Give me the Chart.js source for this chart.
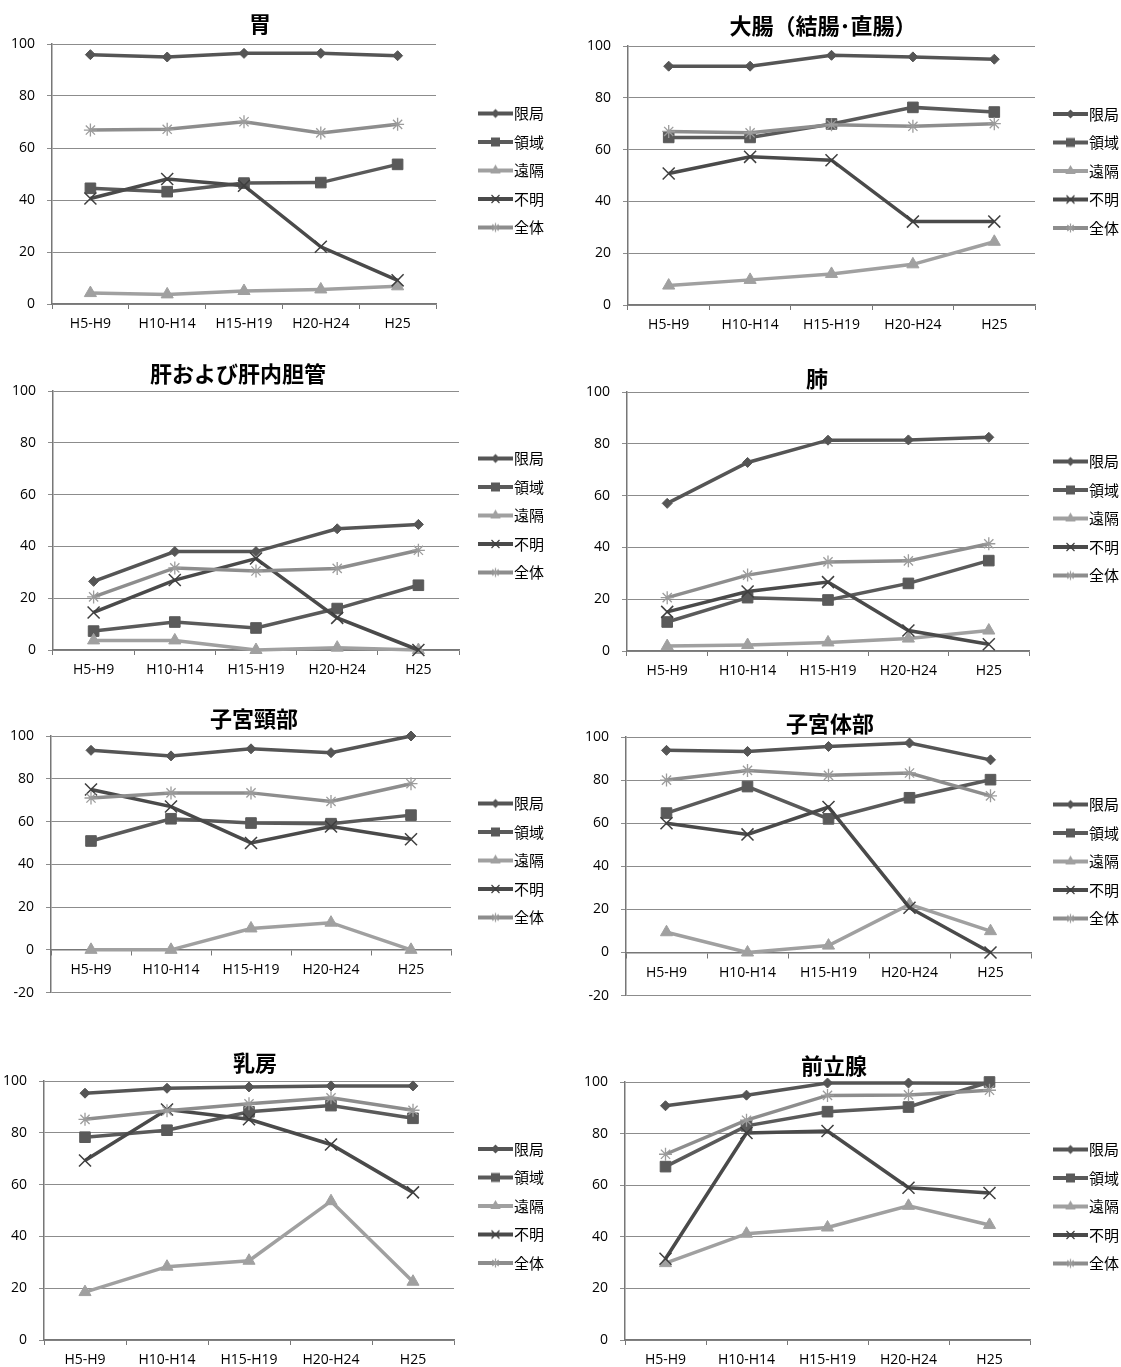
<!DOCTYPE html>
<html>
<head>
<meta charset="utf-8">
<script src="https://cdn.jsdelivr.net/npm/chart.js@4.4.1/dist/chart.umd.min.js"></script>
<style>
html,body{margin:0;padding:0;background:#fff;overflow:hidden;}
#wrap{position:relative;width:1121px;height:1367px;overflow:hidden;background:#fff;}
#wrap canvas{position:absolute;}
</style>
</head>
<body>
<div id="wrap"></div>
<script>
// ---------- data ----------
const categories = ['H5-H9', 'H10-H14', 'H15-H19', 'H20-H24', 'H25'];
const seriesNames = ['限局', '領域', '遠隔', '不明', '全体'];
const panelTitles = ['胃', '大腸（結腸･直腸）', '肝および肝内胆管', '肺', '子宮頸部', '子宮体部', '乳房', '前立腺'];
const yMinimums = [0, 0, 0, 0, -20, -20, 0, 0];

// rows: 限局, 領域, 遠隔, 不明, 全体
const stomach = [
  [95.9, 95.0, 96.4, 96.4, 95.5],
  [44.5, 43.2, 46.5, 46.7, 53.7],
  [4.2, 3.7, 5.0, 5.6, 6.8],
  [40.6, 48.1, 45.5, 22.0, 9.1],
  [66.9, 67.2, 70.1, 65.8, 69.1]
];
const colorectum = [
  [92.2, 92.2, 96.4, 95.8, 94.9],
  [64.7, 64.7, 69.9, 76.3, 74.5],
  [7.5, 9.7, 12.0, 15.7, 24.4],
  [50.8, 57.2, 55.9, 32.2, 32.2],
  [67.0, 66.5, 69.6, 69.0, 70.0]
];
const liver = [
  [26.5, 38.0, 38.0, 46.8, 48.5],
  [7.3, 10.8, 8.5, 16.0, 25.0],
  [3.7, 3.7, 0, 0.9, 0],
  [14.5, 27.0, 35.3, 12.4, 0],
  [20.5, 31.7, 30.5, 31.5, 38.5]
];
const lung = [
  [57.0, 72.8, 81.4, 81.5, 82.5],
  [11.2, 20.6, 19.7, 26.1, 34.9],
  [1.9, 2.3, 3.3, 4.8, 7.9],
  [15.1, 23.0, 26.6, 7.9, 2.6],
  [20.6, 29.3, 34.4, 34.8, 41.4]
];
const cervix = [
  [93.3, 90.7, 94.0, 92.2, 100],
  [50.9, 61.3, 59.3, 59.0, 63.0],
  [0, 0, 10.0, 12.7, 0],
  [75.0, 67.0, 50.0, 57.7, 51.7],
  [71.0, 73.4, 73.4, 69.4, 77.7]
];
const corpus = [
  [93.8, 93.3, 95.6, 97.2, 89.4],
  [64.7, 77.0, 62.0, 71.8, 80.2],
  [9.4, 0, 3.2, 22.3, 9.9],
  [60.0, 54.8, 67.5, 20.8, 0],
  [80.0, 84.5, 82.2, 83.3, 72.7]
];
const breast = [
  [95.3, 97.2, 97.7, 98.1, 98.1],
  [78.3, 81.0, 88.1, 90.5, 85.6],
  [18.5, 28.3, 30.6, 53.6, 22.5],
  [69.3, 89.0, 85.2, 75.5, 57.0],
  [85.2, 88.5, 91.2, 93.5, 88.7]
];
const prostate = [
  [90.8, 94.9, 99.6, 99.6, 99.5],
  [67.2, 83.0, 88.5, 90.3, 100],
  [29.8, 41.2, 43.6, 52.0, 44.6],
  [31.5, 80.2, 81.0, 59.0, 57.0],
  [72.0, 85.2, 94.8, 95.0, 96.8]
];
const panelData = [stomach, colorectum, liver, lung, cervix, corpus, breast, prostate];

// ---------- styles ----------
const lineColors = ['#555555', '#5a5a5a', '#a0a0a0', '#4a4a4a', '#8d8d8d'];
const pointStyles = ['rectRot', 'rect', 'triangle', 'crossRot', 'star'];
const pointRadii = [5, 7.5, 7, 8.5, 6.5];
const markerFill = ['#555555', '#5a5a5a', '#a0a0a0', 'rgba(0,0,0,0)', 'rgba(0,0,0,0)'];
const markerStroke = ['#555555', '#5a5a5a', '#a0a0a0', '#3f3f3f', '#9c9c9c'];
const markerBorder = [1, 1, 1, 1.5, 1.3];

// canvas placement per panel (page px)
const placement = [
  {cL: -31, cT: 13,   W: 582, H: 331, Yw: 83,  G: 35, tb: 9, lgShift: -8},
  {cL: 520, cT: 15,   W: 606, H: 330, Yw: 108, G: 11, tb: 9, lgShift: -9},
  {cL: -75, cT: 363,  W: 626, H: 327, Yw: 128, G: 12, tb: 6, lgShift: -11},
  {cL: 508, cT: 368,  W: 618, H: 323, Yw: 119, G: 17, tb: 2, lgShift: -11},
  {cL: -43, cT: 708,  W: 594, H: 305, Yw: 94,  G: 20, tb: 6, lgShift: 5},
  {cL: 534, cT: 713,  W: 592, H: 303, Yw: 92,  G: 15, tb: 2, lgShift: 2},
  {cL: -41, cT: 1052, W: 592, H: 328, Yw: 85,  G: 17, tb: 7, lgShift: -10},
  {cL: 542, cT: 1055, W: 584, H: 325, Yw: 83,  G: 16, tb: 5, lgShift: -11}
];
const LEGEND_W = 80;
const tickFont = {family: '"Open Sans", "Liberation Sans", sans-serif', size: 14};
const cjkFont = '"Noto Sans CJK JP", "Noto Sans CJK SC", sans-serif';

// legend icons: line with marker
function makeIcon(i) {
  const c = document.createElement('canvas');
  c.width = 35; c.height = 14;
  const g = c.getContext('2d');
  g.strokeStyle = lineColors[i]; g.lineWidth = 4;
  g.beginPath(); g.moveTo(0, 7); g.lineTo(35, 7); g.stroke();
  const cx = 17.5, cy = 7;
  g.fillStyle = markerFill[i]; g.strokeStyle = markerStroke[i]; g.lineWidth = 1.2;
  g.beginPath();
  switch (pointStyles[i]) {
    case 'rectRot': {
      const r = 4.5;
      g.moveTo(cx - r, cy); g.lineTo(cx, cy - r); g.lineTo(cx + r, cy); g.lineTo(cx, cy + r); g.closePath(); g.fill();
      break;
    }
    case 'rect': {
      const s = 4.5;
      g.rect(cx - s, cy - s, 2 * s, 2 * s); g.fill();
      break;
    }
    case 'triangle': {
      const r = 6;
      g.moveTo(cx, cy - r); g.lineTo(cx + r * 0.866, cy + r / 2); g.lineTo(cx - r * 0.866, cy + r / 2); g.closePath(); g.fill();
      break;
    }
    case 'crossRot': {
      const d = 4;
      g.moveTo(cx - d, cy - d); g.lineTo(cx + d, cy + d); g.moveTo(cx + d, cy - d); g.lineTo(cx - d, cy + d); g.stroke();
      break;
    }
    case 'star': {
      const d = 4.5, e = 3.2;
      g.moveTo(cx - d, cy); g.lineTo(cx + d, cy); g.moveTo(cx, cy - d); g.lineTo(cx, cy + d);
      g.moveTo(cx - e, cy - e); g.lineTo(cx + e, cy + e); g.moveTo(cx + e, cy - e); g.lineTo(cx - e, cy + e);
      g.stroke();
      break;
    }
  }
  return c;
}
const legendIcons = seriesNames.map((_, i) => makeIcon(i));

// shifts the legend block vertically after layout
const legendNudge = {
  id: 'legendNudge',
  afterLayout(chart, args, opts) {
    const lg = chart.legend;
    if (!lg || !opts || !opts.shift) return;
    lg.top += opts.shift;
    lg.bottom += opts.shift;
  }
};

const wrap = document.getElementById('wrap');

function makeChart(idx) {
  const spec = placement[idx];
  const yMin = yMinimums[idx];
  const values = panelData[idx];
  const cv = document.createElement('canvas');
  cv.width = spec.W; cv.height = spec.H;
  cv.style.left = spec.cL + 'px'; cv.style.top = spec.cT + 'px';
  cv.style.width = spec.W + 'px'; cv.style.height = spec.H + 'px';
  wrap.appendChild(cv);

  const datasets = seriesNames.map((name, i) => ({
    label: name,
    data: values[i],
    borderColor: lineColors[i],
    backgroundColor: lineColors[i],
    borderWidth: 3.5,
    pointStyle: pointStyles[i],
    pointRadius: pointRadii[i],
    pointHoverRadius: pointRadii[i],
    pointBackgroundColor: markerFill[i],
    pointBorderColor: markerStroke[i],
    pointBorderWidth: markerBorder[i],
    tension: 0,
    fill: false,
    clip: false,
    order: 4 - i
  }));

  const xScale = {
    type: 'category',
    offset: true,
    grid: {offset: true, drawOnChartArea: false, drawTicks: true, tickLength: 5, color: '#777777', lineWidth: 1},
    border: {display: true, color: '#777777', width: 1.5},
    ticks: {color: '#000', font: tickFont, padding: 7, maxRotation: 0, autoSkip: false}
  };
  if (yMin < 0) {
    xScale.position = {y: 0};
  } else {
    xScale.position = 'bottom';
    xScale.afterFit = (s) => { s.height = 40; };
  }

  new Chart(cv, {
    type: 'line',
    data: {labels: categories, datasets},
    plugins: [legendNudge],
    options: {
      responsive: false,
      animation: false,
      devicePixelRatio: 1,
      events: [],
      layout: {padding: {left: 0, right: 0, top: 0, bottom: yMin < 0 ? 10 : 0}},
      plugins: {
        legendNudge: {shift: spec.lgShift},
        title: {
          display: true,
          text: panelTitles[idx],
          color: '#000',
          font: {family: cjkFont, size: 22, weight: 'bold', lineHeight: 1},
          padding: {top: 0, bottom: spec.tb}
        },
        legend: {
          display: true,
          position: 'right',
          align: 'center',
          maxWidth: LEGEND_W,
          labels: {
            usePointStyle: true,
            pointStyleWidth: 22,
            padding: 13.5,
            color: '#000',
            font: {family: cjkFont, size: 15},
            generateLabels: (chart) => chart.data.datasets.map((ds, i) => ({
              text: ds.label,
              pointStyle: legendIcons[i],
              fillStyle: ds.borderColor,
              strokeStyle: ds.borderColor,
              lineWidth: 0,
              hidden: false,
              datasetIndex: i,
              fontColor: '#000'
            }))
          }
        },
        tooltip: {enabled: false}
      },
      scales: {
        x: xScale,
        y: {
          type: 'linear',
          position: 'left',
          min: yMin,
          max: 100,
          ticks: {stepSize: 20, color: '#000', font: tickFont, padding: 12},
          grid: {color: '#8c8c8c', lineWidth: 1, drawTicks: true, tickLength: 5},
          border: {display: true, color: '#777777', width: 1.5},
          afterFit: (s) => { s.width = spec.Yw; }
        },
        y2: {
          type: 'linear',
          position: 'right',
          display: true,
          grid: {display: false, drawTicks: false},
          border: {display: false},
          ticks: {display: false},
          afterFit: (s) => { s.width = spec.G; }
        }
      }
    }
  });
}

for (let i = 0; i < panelTitles.length; i++) makeChart(i);
</script>
</body>
</html>
